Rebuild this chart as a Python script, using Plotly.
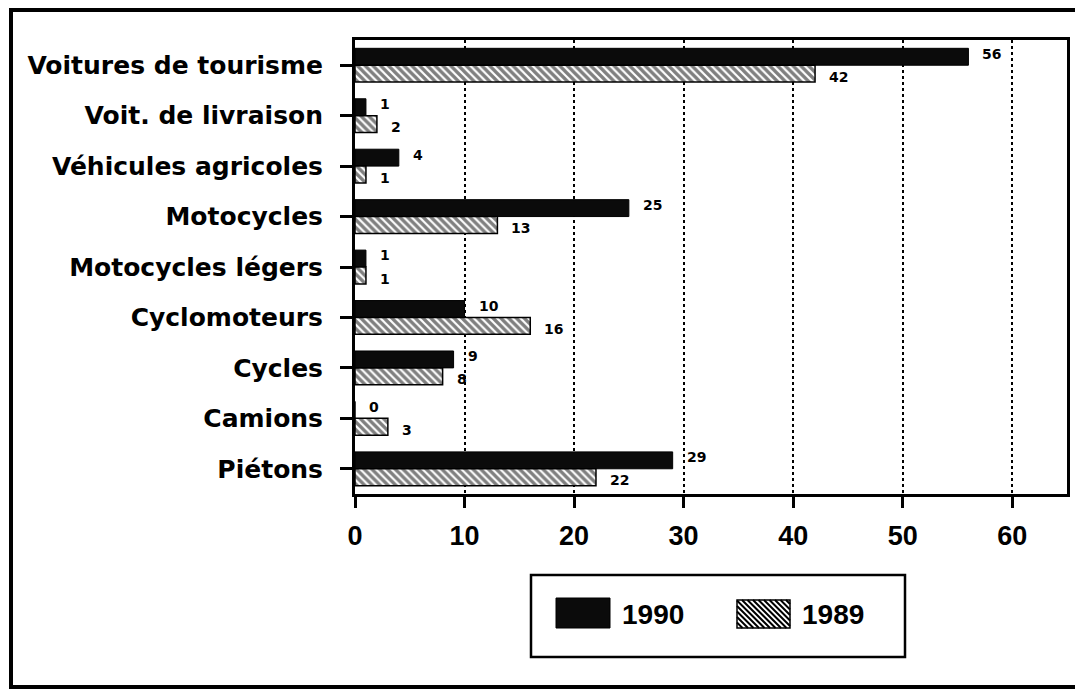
import plotly.graph_objects as go

categories = ["Voitures de tourisme", "Voit. de livraison", "Véhicules agricoles",
              "Motocycles", "Motocycles légers", "Cyclomoteurs", "Cycles",
              "Camions", "Piétons"]
values_1990 = [56, 1, 4, 25, 1, 10, 9, 0, 29]
values_1989 = [42, 2, 1, 13, 1, 16, 8, 3, 22]
x_ticks = [0, 10, 20, 30, 40, 50, 60]
series_names = ["1990", "1989"]

OFF = 8  # page body margin
W, H = 1083 - OFF, 690 - OFF


def px(x):
    return (x - OFF) / W


def py(y):
    return 1 - (y - OFF) / H


fig = go.Figure()
fig.add_trace(go.Bar(
    y=categories, x=values_1990, orientation="h", name=series_names[0],
    marker=dict(color="#0b0b0b", line=dict(color="black", width=1)),
    showlegend=False, hoverinfo="x+y",
))
fig.add_trace(go.Bar(
    y=categories, x=values_1989, orientation="h", name=series_names[1],
    marker=dict(color="white", line=dict(color="black", width=1.5),
                pattern=dict(shape="\\", fgcolor="black", bgcolor="white",
                             size=5.5, solidity=0.6)),
    showlegend=False, hoverinfo="x+y",
))

annotations = []
lab_font = dict(family="DejaVu Sans", size=14, color="black", weight="bold")
for i, (a, b) in enumerate(zip(values_1990, values_1989)):
    annotations.append(dict(x=a, y=i - 0.17, xref="x", yref="y", text=str(a),
                            showarrow=False, xanchor="left", yanchor="middle",
                            xshift=12, yshift=3, font=lab_font))
    annotations.append(dict(x=b, y=i + 0.17, xref="x", yref="y", text=str(b),
                            showarrow=False, xanchor="left", yanchor="middle",
                            xshift=12, yshift=-3, font=lab_font))

# legend (manual, large swatches)
leg_font = dict(family="Liberation Sans", size=28, color="black", weight="bold")
annotations.append(dict(x=px(620), y=py(614), xref="paper", yref="paper",
                        text=series_names[0], showarrow=False, xanchor="left",
                        yanchor="middle", font=leg_font))
annotations.append(dict(x=px(800), y=py(614), xref="paper", yref="paper",
                        text=series_names[1], showarrow=False, xanchor="left",
                        yanchor="middle", font=leg_font))

shapes = []
# outer frame
shapes.append(dict(type="rect", xref="paper", yref="paper",
                   x0=px(11), y0=py(687), x1=px(1100), y1=py(10),
                   line=dict(color="black", width=4), fillcolor="rgba(0,0,0,0)",
                   layer="above"))
# legend box
shapes.append(dict(type="rect", xref="paper", yref="paper",
                   x0=px(531), y0=py(657), x1=px(905), y1=py(575),
                   line=dict(color="black", width=2.5)))
# black swatch
shapes.append(dict(type="rect", xref="paper", yref="paper",
                   x0=px(556), y0=py(628), x1=px(610), y1=py(598),
                   line=dict(color="black", width=1), fillcolor="#0b0b0b"))
# hatched swatch
sx0, sy0, sx1, sy1 = 737, 600, 790, 628
shapes.append(dict(type="rect", xref="paper", yref="paper",
                   x0=px(sx0), y0=py(sy1), x1=px(sx1), y1=py(sy0),
                   line=dict(color="black", width=1.5), fillcolor="white"))
path = ""
c = sx0 - sy1
while c < sx1 - sy0:
    xa = max(sx0, c + sy0)
    xb = min(sx1, c + sy1)
    if xb > xa:
        path += f"M{px(xa):.5f},{py(xa - c):.5f}L{px(xb):.5f},{py(xb - c):.5f}"
    c += 5.5
shapes.append(dict(type="path", xref="paper", yref="paper", path=path,
                   line=dict(color="black", width=2)))

fig.update_layout(
    width=W, height=H,
    margin=dict(l=0, r=0, t=0, b=0, pad=0),
    paper_bgcolor="white", plot_bgcolor="white",
    barmode="group", bargap=0.33, bargroupgap=0,
    annotations=annotations, shapes=shapes,
    xaxis=dict(domain=[px(355), px(1067)], range=[0, 65], tickvals=x_ticks,
               showline=True, linecolor="black", linewidth=3, mirror=True,
               ticks="outside", ticklen=11, tickwidth=3, tickcolor="black",
               showgrid=True, gridcolor="black", gridwidth=2, griddash="dot",
               zeroline=False, automargin=False, ticklabelstandoff=5,
               tickfont=dict(family="Liberation Sans", size=27, color="black",
                             weight="bold")),
    yaxis=dict(domain=[py(494), py(40)], type="category",
               categoryarray=categories, categoryorder="array",
               range=[8.5, -0.5],
               showline=True, linecolor="black", linewidth=3, mirror=True,
               ticks="outside", ticklen=12, tickwidth=3, tickcolor="black",
               showgrid=False, zeroline=False, automargin=False,
               ticklabelstandoff=12,
               tickfont=dict(family="DejaVu Sans", size=25, color="black",
                             weight="bold")),
)

fig.write_html("out.html")
